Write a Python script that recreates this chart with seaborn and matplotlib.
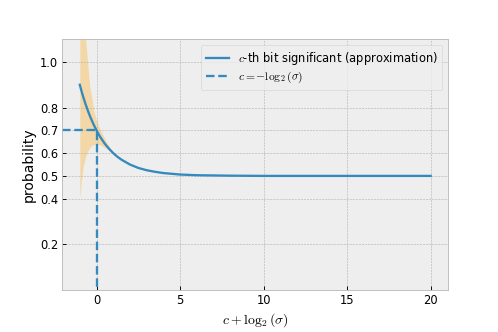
import numpy as np
import pandas as pd
import seaborn as sns
import matplotlib.pyplot as plt

# values
x_shift = [-1, -0.9, -0.8, -0.65, -0.5, -0.4, -0.25, -0.15, 0, 0.15, 0.25, 0.5, 0.75,
           1, 1.25, 1.5, 2, 2.5, 3, 3.5, 4, 5, 6, 7, 8, 10, 12, 15, 20]
prob_mean = [0.900, 0.873, 0.848, 0.814, 0.783, 0.764, 0.738, 0.722, 0.700, 0.680, 0.668,
             0.641, 0.619, 0.600, 0.584, 0.571, 0.550, 0.535, 0.525, 0.518, 0.5125,
             0.506, 0.503, 0.502, 0.501, 0.500, 0.500, 0.500, 0.500]
prob_low = [0.40, 0.48, 0.54, 0.585, 0.612, 0.625, 0.635, 0.638, 0.640, 0.638, 0.635,
            0.625, 0.612, 0.596, 0.582, 0.569, 0.549, 0.534, 0.524, 0.517, 0.512,
            0.5055, 0.5027, 0.5017, 0.5007, 0.4998, 0.4998, 0.4998, 0.4998]
prob_high = [1.50, 1.35, 1.24, 1.10, 0.97, 0.89, 0.83, 0.78, 0.745, 0.715, 0.700,
             0.662, 0.630, 0.606, 0.587, 0.573, 0.551, 0.536, 0.526, 0.519, 0.513,
             0.5065, 0.5033, 0.5023, 0.5013, 0.5002, 0.5002, 0.5002, 0.5002]

threshold_x = 0
threshold_p = 0.7
y_ticks = [0.2, 0.4, 0.5, 0.6, 0.7, 0.8, 1.0]

plt.style.use("bmh")
plt.rcParams["mathtext.fontset"] = "cm"

df = pd.DataFrame({"x": x_shift, "p": prob_mean, "lo": prob_low, "hi": prob_high})

fig, ax = plt.subplots(figsize=(6, 4), dpi=83)
fig.subplots_adjust(left=0.125, right=0.9, bottom=0.127, top=0.882)

ax.fill_between(df["x"], df["lo"], df["hi"], color="orange", alpha=0.3, linewidth=0)
sns.lineplot(data=df, x="x", y="p", ax=ax, color="#348ABD",
             label="$c$-th bit significant (approximation)")

ax.set_xlim(-2.05, 21.05)
ax.set_ylim(0, 1.1)
x0 = ax.get_xlim()[0]
y0 = ax.get_ylim()[0]

# dashed guide from the left edge to the threshold, then down
ax.plot([x0, threshold_x, threshold_x], [threshold_p, threshold_p, y0],
        linestyle="--", color="#348ABD", label=r"$c = -\log_2(\sigma)$")

ax.set_yticks(y_ticks)
ax.set_yticklabels([f"{v:.1f}" for v in y_ticks])
ax.tick_params(direction="in")
ax.set_xlabel(r"$c + \log_2(\sigma)$")
ax.set_ylabel("probability")
ax.legend(loc="upper right", labelspacing=0.3)

plt.savefig("out.png", dpi=83)
